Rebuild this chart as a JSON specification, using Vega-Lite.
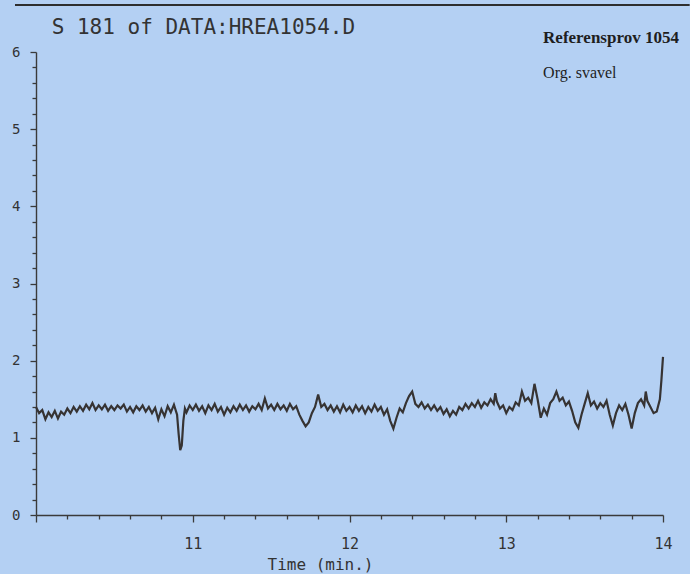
{
  "$schema": "https://vega.github.io/schema/vega-lite/v6.json",
  "width": 627,
  "height": 463,
  "autosize": "none",
  "padding": {"left": 36, "top": 52, "right": 27, "bottom": 59},
  "background": "#b4d0f3",
  "config": {
    "view": {"stroke": null},
    "axis": {"grid": false, "domainColor": "#3a3a3a", "domainWidth": 1.4, "tickColor": "#3a3a3a", "tickWidth": 1.3, "labelColor": "#333333", "titleColor": "#333333", "labelFont": "DejaVu Sans Mono", "titleFont": "DejaVu Sans Mono", "labelOverlap": false, "labelFlush": false}
  },
  "datasets": {
    "trace": [
      {"time": 10.00, "signal": 1.40}, {"time": 10.02, "signal": 1.32}, {"time": 10.04, "signal": 1.36}, {"time": 10.06, "signal": 1.24}, {"time": 10.08, "signal": 1.33},
      {"time": 10.10, "signal": 1.27}, {"time": 10.12, "signal": 1.35}, {"time": 10.14, "signal": 1.25}, {"time": 10.16, "signal": 1.34}, {"time": 10.18, "signal": 1.30},
      {"time": 10.20, "signal": 1.38}, {"time": 10.22, "signal": 1.32}, {"time": 10.24, "signal": 1.40}, {"time": 10.26, "signal": 1.34}, {"time": 10.28, "signal": 1.41},
      {"time": 10.30, "signal": 1.35}, {"time": 10.32, "signal": 1.43}, {"time": 10.34, "signal": 1.37}, {"time": 10.36, "signal": 1.45}, {"time": 10.38, "signal": 1.36},
      {"time": 10.40, "signal": 1.42}, {"time": 10.42, "signal": 1.37}, {"time": 10.44, "signal": 1.43}, {"time": 10.46, "signal": 1.35}, {"time": 10.48, "signal": 1.41},
      {"time": 10.50, "signal": 1.36}, {"time": 10.52, "signal": 1.42}, {"time": 10.54, "signal": 1.38}, {"time": 10.56, "signal": 1.43}, {"time": 10.58, "signal": 1.34},
      {"time": 10.60, "signal": 1.40}, {"time": 10.62, "signal": 1.33}, {"time": 10.64, "signal": 1.41}, {"time": 10.66, "signal": 1.36}, {"time": 10.68, "signal": 1.42},
      {"time": 10.70, "signal": 1.34}, {"time": 10.72, "signal": 1.40}, {"time": 10.74, "signal": 1.32}, {"time": 10.76, "signal": 1.39}, {"time": 10.78, "signal": 1.24},
      {"time": 10.80, "signal": 1.37}, {"time": 10.82, "signal": 1.28}, {"time": 10.84, "signal": 1.41}, {"time": 10.86, "signal": 1.33}, {"time": 10.88, "signal": 1.43},
      {"time": 10.90, "signal": 1.30}, {"time": 10.91, "signal": 1.05}, {"time": 10.92, "signal": 0.84}, {"time": 10.93, "signal": 0.90}, {"time": 10.94, "signal": 1.22},
      {"time": 10.95, "signal": 1.38}, {"time": 10.96, "signal": 1.33}, {"time": 10.98, "signal": 1.42}, {"time": 11.00, "signal": 1.36}, {"time": 11.02, "signal": 1.43},
      {"time": 11.04, "signal": 1.35}, {"time": 11.06, "signal": 1.41}, {"time": 11.08, "signal": 1.32}, {"time": 11.10, "signal": 1.42}, {"time": 11.12, "signal": 1.36},
      {"time": 11.14, "signal": 1.44}, {"time": 11.16, "signal": 1.34}, {"time": 11.18, "signal": 1.40}, {"time": 11.20, "signal": 1.30}, {"time": 11.22, "signal": 1.39},
      {"time": 11.24, "signal": 1.33}, {"time": 11.26, "signal": 1.41}, {"time": 11.28, "signal": 1.35}, {"time": 11.30, "signal": 1.43}, {"time": 11.32, "signal": 1.36},
      {"time": 11.34, "signal": 1.42}, {"time": 11.36, "signal": 1.34}, {"time": 11.38, "signal": 1.41}, {"time": 11.40, "signal": 1.37}, {"time": 11.42, "signal": 1.44},
      {"time": 11.44, "signal": 1.36}, {"time": 11.46, "signal": 1.51}, {"time": 11.48, "signal": 1.38}, {"time": 11.50, "signal": 1.43}, {"time": 11.52, "signal": 1.36},
      {"time": 11.54, "signal": 1.44}, {"time": 11.56, "signal": 1.37}, {"time": 11.58, "signal": 1.42}, {"time": 11.60, "signal": 1.35}, {"time": 11.62, "signal": 1.44},
      {"time": 11.64, "signal": 1.37}, {"time": 11.66, "signal": 1.41}, {"time": 11.68, "signal": 1.30}, {"time": 11.70, "signal": 1.22}, {"time": 11.72, "signal": 1.15},
      {"time": 11.74, "signal": 1.20}, {"time": 11.76, "signal": 1.32}, {"time": 11.78, "signal": 1.40}, {"time": 11.80, "signal": 1.56}, {"time": 11.82, "signal": 1.40},
      {"time": 11.84, "signal": 1.44}, {"time": 11.86, "signal": 1.36}, {"time": 11.88, "signal": 1.42}, {"time": 11.90, "signal": 1.34}, {"time": 11.92, "signal": 1.41},
      {"time": 11.94, "signal": 1.33}, {"time": 11.96, "signal": 1.43}, {"time": 11.98, "signal": 1.35}, {"time": 12.00, "signal": 1.40}, {"time": 12.02, "signal": 1.33},
      {"time": 12.04, "signal": 1.42}, {"time": 12.06, "signal": 1.35}, {"time": 12.08, "signal": 1.41}, {"time": 12.10, "signal": 1.32}, {"time": 12.12, "signal": 1.40},
      {"time": 12.14, "signal": 1.34}, {"time": 12.16, "signal": 1.43}, {"time": 12.18, "signal": 1.35}, {"time": 12.20, "signal": 1.40}, {"time": 12.22, "signal": 1.30},
      {"time": 12.24, "signal": 1.37}, {"time": 12.26, "signal": 1.22}, {"time": 12.28, "signal": 1.12}, {"time": 12.30, "signal": 1.26}, {"time": 12.32, "signal": 1.38},
      {"time": 12.34, "signal": 1.33}, {"time": 12.36, "signal": 1.45}, {"time": 12.38, "signal": 1.54}, {"time": 12.40, "signal": 1.60}, {"time": 12.42, "signal": 1.44},
      {"time": 12.44, "signal": 1.40}, {"time": 12.46, "signal": 1.46}, {"time": 12.48, "signal": 1.38}, {"time": 12.50, "signal": 1.43}, {"time": 12.52, "signal": 1.36},
      {"time": 12.54, "signal": 1.42}, {"time": 12.56, "signal": 1.35}, {"time": 12.58, "signal": 1.40}, {"time": 12.60, "signal": 1.31}, {"time": 12.62, "signal": 1.37},
      {"time": 12.64, "signal": 1.28}, {"time": 12.66, "signal": 1.35}, {"time": 12.68, "signal": 1.30}, {"time": 12.70, "signal": 1.40}, {"time": 12.72, "signal": 1.36},
      {"time": 12.74, "signal": 1.44}, {"time": 12.76, "signal": 1.38}, {"time": 12.78, "signal": 1.45}, {"time": 12.80, "signal": 1.40}, {"time": 12.82, "signal": 1.48},
      {"time": 12.84, "signal": 1.39}, {"time": 12.86, "signal": 1.46}, {"time": 12.88, "signal": 1.42}, {"time": 12.90, "signal": 1.50}, {"time": 12.92, "signal": 1.44},
      {"time": 12.93, "signal": 1.58}, {"time": 12.94, "signal": 1.47}, {"time": 12.96, "signal": 1.38}, {"time": 12.98, "signal": 1.42}, {"time": 13.00, "signal": 1.32},
      {"time": 13.02, "signal": 1.40}, {"time": 13.04, "signal": 1.36}, {"time": 13.06, "signal": 1.46}, {"time": 13.08, "signal": 1.42}, {"time": 13.10, "signal": 1.60},
      {"time": 13.12, "signal": 1.48}, {"time": 13.14, "signal": 1.52}, {"time": 13.16, "signal": 1.45}, {"time": 13.18, "signal": 1.70}, {"time": 13.20, "signal": 1.50},
      {"time": 13.22, "signal": 1.26}, {"time": 13.24, "signal": 1.38}, {"time": 13.26, "signal": 1.30}, {"time": 13.28, "signal": 1.45}, {"time": 13.30, "signal": 1.50},
      {"time": 13.32, "signal": 1.60}, {"time": 13.34, "signal": 1.48}, {"time": 13.36, "signal": 1.52}, {"time": 13.38, "signal": 1.42}, {"time": 13.40, "signal": 1.47},
      {"time": 13.42, "signal": 1.35}, {"time": 13.44, "signal": 1.20}, {"time": 13.46, "signal": 1.13}, {"time": 13.48, "signal": 1.30}, {"time": 13.50, "signal": 1.44},
      {"time": 13.52, "signal": 1.58}, {"time": 13.54, "signal": 1.42}, {"time": 13.56, "signal": 1.47}, {"time": 13.58, "signal": 1.38}, {"time": 13.60, "signal": 1.45},
      {"time": 13.62, "signal": 1.40}, {"time": 13.64, "signal": 1.48}, {"time": 13.66, "signal": 1.30}, {"time": 13.68, "signal": 1.16}, {"time": 13.70, "signal": 1.32},
      {"time": 13.72, "signal": 1.42}, {"time": 13.74, "signal": 1.36}, {"time": 13.76, "signal": 1.44}, {"time": 13.78, "signal": 1.30}, {"time": 13.80, "signal": 1.12},
      {"time": 13.82, "signal": 1.32}, {"time": 13.84, "signal": 1.45}, {"time": 13.86, "signal": 1.50}, {"time": 13.88, "signal": 1.42}, {"time": 13.89, "signal": 1.60},
      {"time": 13.90, "signal": 1.48}, {"time": 13.92, "signal": 1.40}, {"time": 13.94, "signal": 1.32}, {"time": 13.96, "signal": 1.34}, {"time": 13.98, "signal": 1.50},
      {"time": 13.99, "signal": 1.75}, {"time": 14.00, "signal": 2.05}
    ]
  },
  "layer": [
    {
      "data": {"name": "trace"},
      "mark": {"type": "line", "color": "#363333", "strokeWidth": 2.2},
      "encoding": {
        "x": {
          "field": "time", "type": "quantitative",
          "scale": {"domain": [10, 14], "nice": false, "zero": false},
          "axis": {
            "values": [10, 10.2, 10.4, 10.6, 10.8, 11, 11.2, 11.4, 11.6, 11.8, 12, 12.2, 12.4, 12.6, 12.8, 13, 13.2, 13.4, 13.6, 13.8, 14],
            "tickCount": 100,
            "labelExpr": "datum.value > 10.5 && abs(datum.value - round(datum.value)) < 0.01 ? format(datum.value, 'd') : ''",
            "labelOverlap": false, "labelFlush": false, "labelBound": false,
            "tickSize": {"condition": {"test": "abs(datum.value - round(datum.value)) < 0.01", "value": 7}, "value": 4},
            "labelPadding": 14, "labelFontSize": 15,
            "title": "Time (min.)", "titleFontSize": 16, "titleFontWeight": "normal",
            "titleX": 284, "titleY": 54, "titleBaseline": "alphabetic", "titleAlign": "center", "titleAnchor": null
          }
        },
        "y": {
          "field": "signal", "type": "quantitative",
          "scale": {"domain": [0, 6], "nice": false},
          "axis": {
            "values": [0, 0.2, 0.4, 0.6, 0.8, 1, 1.2, 1.4, 1.6, 1.8, 2, 2.2, 2.4, 2.6, 2.8, 3, 3.2, 3.4, 3.6, 3.8, 4, 4.2, 4.4, 4.6, 4.8, 5, 5.2, 5.4, 5.6, 5.8, 6],
            "tickCount": 100,
            "labelExpr": "abs(datum.value - round(datum.value)) < 0.01 ? format(datum.value, 'd') : ''",
            "labelOverlap": false, "labelBound": false,
            "tickSize": {"condition": {"test": "abs(datum.value - round(datum.value)) < 0.01", "value": 6}, "value": 4},
            "labelPadding": 10, "labelFontSize": 14,
            "title": null
          }
        }
      }
    },
    {
      "data": {"values": [{}]},
      "mark": {"type": "rule", "color": "#2e2e2e", "strokeWidth": 2},
      "encoding": {"x": {"datum": 9.866}, "x2": {"datum": 14.17}, "y": {"datum": 6.61}}
    },
    {
      "data": {"values": [{}]},
      "mark": {"type": "text", "text": "S 181 of DATA:HREA1054.D", "align": "left", "baseline": "alphabetic", "font": "DejaVu Sans Mono", "fontSize": 21, "color": "#333333"},
      "encoding": {"x": {"datum": 10.1}, "y": {"datum": 6.23}}
    },
    {
      "data": {"values": [{}]},
      "mark": {"type": "text", "text": "Referensprov 1054", "align": "left", "baseline": "alphabetic", "font": "Liberation Serif", "fontWeight": "bold", "fontSize": 17, "color": "#1e1e1e"},
      "encoding": {"x": {"datum": 13.235}, "y": {"datum": 6.12}}
    },
    {
      "data": {"values": [{}]},
      "mark": {"type": "text", "text": "Org. svavel", "align": "left", "baseline": "alphabetic", "font": "Liberation Serif", "fontSize": 16, "color": "#1e1e1e"},
      "encoding": {"x": {"datum": 13.235}, "y": {"datum": 5.66}}
    }
  ]
}
